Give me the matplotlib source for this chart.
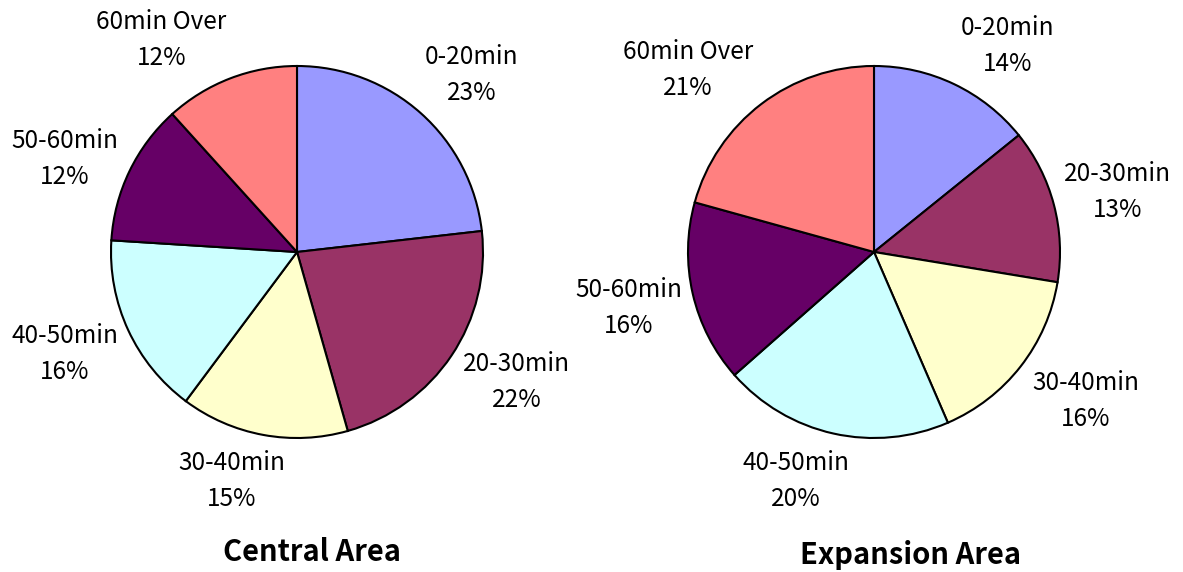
import matplotlib
matplotlib.use('Agg')
import matplotlib.pyplot as plt

plt.rcParams['font.family'] = ['Noto Sans CJK JP', 'DejaVu Sans']

# data (percent shares)
categories = ['0-20min', '20-30min', '30-40min', '40-50min', '50-60min', '60min Over']
central = [23.2, 22.4, 14.6, 15.8, 12.3, 11.7]
expansion = [14.2, 13.4, 15.9, 20.0, 15.8, 20.7]
titles = ['Central Area', 'Expansion Area']
colors = ['#9999FF', '#993366', '#FFFFCC', '#CCFFFF', '#660066', '#FF8080']

# label spots relative to each pie centre, in pie radii (as placed in the reference)
label_xy = [[(0.94, 0.95), (1.18, -0.70), (-0.35, -1.23),
             (-1.25, -0.55), (-1.25, 0.50), (-0.73, 1.14)],
            [(0.72, 1.11), (1.31, 0.32), (1.14, -0.80),
             (-0.42, -1.23), (-1.32, -0.30), (-1.00, 0.98)]]

W, H = 1183, 572
fig = plt.figure(figsize=(W / 100, H / 100), dpi=100)

R = 186
centers = [(297, 252), (874, 252)]
title_pos = [(312, 552), (911, 555)]

for i, vals in enumerate([central, expansion]):
    cx, cy = centers[i]
    tx, ty = title_pos[i]
    ax = fig.add_axes([(cx - R) / W, (H - cy - R) / H, 2 * R / W, 2 * R / H])
    labels = ['%s\n%d%%' % (c, round(v)) for c, v in zip(categories, vals)]
    wedges, texts = ax.pie(vals, labels=labels, colors=colors, startangle=90,
                           counterclock=False,
                           wedgeprops=dict(edgecolor='black', linewidth=1.5),
                           textprops=dict(fontsize=17.5, linespacing=1.5))
    for t, xy in zip(texts, label_xy[i]):
        t.set_position(xy)
        t.set_horizontalalignment('center')
        t.set_verticalalignment('center')
    ax.set_xlim(-1, 1)
    ax.set_ylim(-1, 1)
    ax.axis('off')
    fig.text(tx / W, 1 - ty / H, titles[i], ha='center', va='center',
             fontsize=21, fontweight='bold')

fig.savefig('out.png', dpi=100)
